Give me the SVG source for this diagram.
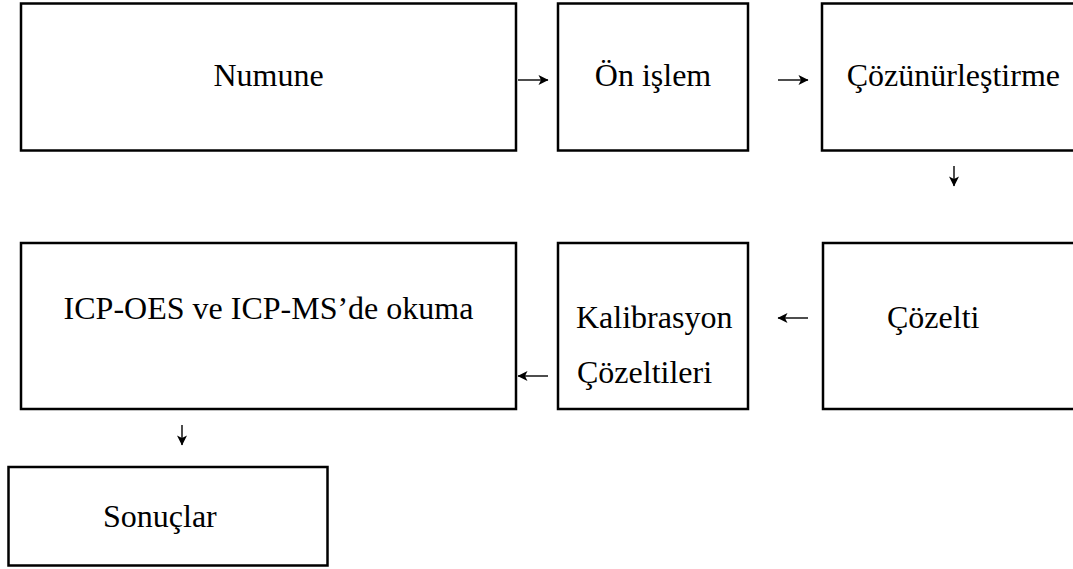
<svg xmlns="http://www.w3.org/2000/svg" width="1073" height="569" viewBox="0 0 1073 569">
  <style>
    .box { fill: #ffffff; stroke: #000000; stroke-width: 2.5; }
    .lbl { font-family: "Liberation Serif", "Times New Roman", serif; font-size: 32px; fill: #000000; }
    .mid { text-anchor: middle; }
    .conn { stroke: #000000; stroke-width: 1.4; fill: none; marker-end: url(#head); }
  </style>
  <defs>
    <marker id="head" markerUnits="userSpaceOnUse" markerWidth="11" markerHeight="11" refX="10" refY="5.5" orient="auto">
      <path d="M0.5,0.5 L10.5,5.5 L0.5,10.5 L3,5.5 Z" fill="#000000"/>
    </marker>
  </defs>
  <rect width="1073" height="569" fill="#ffffff"/>

  <g id="node-numune">
    <rect class="box" x="21" y="3.5" width="495" height="147"/>
    <text class="lbl mid" x="268.5" y="86">Numune</text>
  </g>
  <g id="node-onislem">
    <rect class="box" x="558" y="3.5" width="190" height="147"/>
    <text class="lbl mid" x="653" y="86">Ön işlem</text>
  </g>
  <g id="node-cozunurlestirme">
    <rect class="box" x="822" y="3.5" width="270" height="147"/>
    <text class="lbl" x="1060" y="86" text-anchor="end">Çözünürleştirme</text>
  </g>
  <g id="node-icp">
    <rect class="box" x="21" y="243" width="495" height="166"/>
    <text class="lbl mid" x="268.5" y="319">ICP-OES ve ICP-MS’de okuma</text>
  </g>
  <g id="node-kalibrasyon">
    <rect class="box" x="558" y="243" width="190" height="166"/>
    <text class="lbl" x="576" y="328">Kalibrasyon</text>
    <text class="lbl" x="577" y="383">Çözeltileri</text>
  </g>
  <g id="node-cozelti">
    <rect class="box" x="823" y="243" width="270" height="166"/>
    <text class="lbl" x="887" y="328">Çözelti</text>
  </g>
  <g id="node-sonuclar">
    <rect class="box" x="8.5" y="467" width="319" height="98.5"/>
    <text class="lbl" x="103" y="527">Sonuçlar</text>
  </g>

  <g id="connectors">
    <path class="conn" d="M518,80 L548,80"/>
    <path class="conn" d="M778,80 L808,80"/>
    <path class="conn" d="M954,166 L954,186"/>
    <path class="conn" d="M808,318 L778,318"/>
    <path class="conn" d="M548,376 L518,376"/>
    <path class="conn" d="M182,425 L182,445"/>
  </g>
</svg>
